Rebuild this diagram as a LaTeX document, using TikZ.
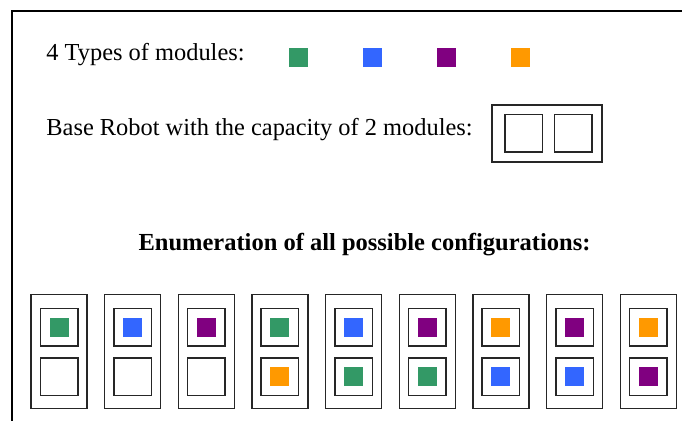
\documentclass[tikz,border=0pt]{standalone}
\usepackage{fontspec}
\setmainfont{Liberation Serif}
\usetikzlibrary{positioning}
\definecolor{modgreen}{RGB}{51,153,102}
\definecolor{modblue}{RGB}{51,102,255}
\definecolor{modpurple}{RGB}{128,0,128}
\definecolor{modorange}{RGB}{255,153,0}
\tikzstyle{module} = [rectangle, minimum size=9.5pt, inner sep=0pt, outer sep=0pt]
\tikzstyle{slot} = [draw=black!85, line width=0.75pt, rectangle, minimum size=18.75pt, inner sep=0pt, outer sep=0pt]
\tikzstyle{robot} = [draw=black!85, line width=0.75pt, rectangle, inner sep=0pt, outer sep=0pt]
\tikzstyle{txt} = [font=\fontsize{12.2}{14}\selectfont, inner sep=0pt, anchor=base west]

\begin{document}
\begin{tikzpicture}[x=0.5pt, y=-0.5pt]
  \useasboundingbox (0,0) rectangle (682,421);
  \draw[line width=1pt] (12,421) -- (12,11) -- (682,11);

  \node[txt] (types) at (46,60.7) {4 Types of modules:};
  \node[module, fill=modgreen] (mG) at (298,57.5) {};
  \node[module, fill=modblue, right=27.5pt of mG] (mB) {};
  \node[module, fill=modpurple, right=27.5pt of mB] (mP) {};
  \node[module, fill=modorange, right=27.5pt of mP] (mO) {};

  \node[txt] (base) at (46,135.3) {Base Robot with the capacity of 2 modules:};
  \node[robot, minimum width=55pt, minimum height=28.5pt] (R) at (547,133.5) {};
  \node[slot, right=6.5pt of R.west] (R1) {};
  \node[slot, right=6pt of R1] (R2) {};

  \node[font=\bfseries\fontsize{12.25}{14}\selectfont, inner sep=0pt, anchor=base] (title) at (364.5,251) {Enumeration of all possible configurations:};

  \foreach \up/\down [count=\i from 0] in {modgreen/none, modblue/none, modpurple/none, modgreen/modorange, modblue/modgreen, modpurple/modgreen, modorange/modblue, modpurple/modblue, modorange/modpurple} {
    \node[robot, minimum width=28pt, minimum height=57pt] (C\i) at (59+73.66*\i, 351.7) {};
    \node[slot, below=7pt of C\i.north] (C\i top) {};
    \node[slot, below=6pt of C\i top] (C\i bot) {};
    \node[module, fill=\up] (C\i up) at (C\i top) {};
    \node[module, fill=\down] (C\i down) at (C\i bot) {};
  }
\end{tikzpicture}
\end{document}
